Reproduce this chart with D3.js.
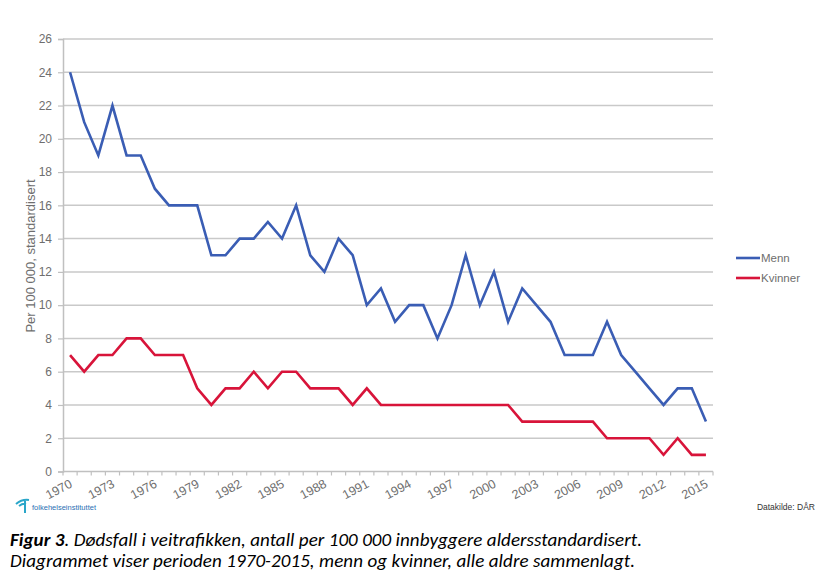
<!DOCTYPE html>
<html><head><meta charset="utf-8">
<script src="https://cdn.jsdelivr.net/npm/d3@7"></script>
<style>
body{margin:0;background:#fff;}
svg{display:block;}
</style></head>
<body>
<svg id="c" width="829" height="586"></svg>
<script>
const years = d3.range(1970, 2016);
const menn = [24,21,19,22,19,19,17,16,16,16,13,13,14,14,15,14,16,13,12,14,13,10,11,9,10,10,8,10,13,10,12,9,11,10,9,7,7,7,9,7,6,5,4,5,5,3];
const kvinner = [7,6,7,7,8,8,7,7,7,5,4,5,5,6,5,6,6,5,5,5,4,5,4,4,4,4,4,4,4,4,4,4,3,3,3,3,3,3,2,2,2,2,1,2,1,1];
const yTicks = [0,2,4,6,8,10,12,14,16,18,20,22,24,26];
const seriesNames = ["Menn","Kvinner"];
const seriesColors = ["#3a5db4","#d8143a"];

(function(){
const svg = d3.select("#c");
const pL = 63, pR = 713, pT = 39, pB = 471.5;
const x = d3.scaleBand().domain(years).range([pL, pR]);
const y = d3.scaleLinear().domain([0, 26]).range([pB, pT]);
const gray = "#6e6e6e";
const sans = "'Liberation Sans', Arial, sans-serif";

svg.append("g").selectAll("line").data(yTicks.filter(d=>d>0)).join("line")
  .attr("x1", pL).attr("x2", pR)
  .attr("y1", d=>y(d)).attr("y2", d=>y(d))
  .attr("stroke", "#c9c9c9").attr("stroke-width", 1.5);

const yAxis = svg.append("g").attr("transform", `translate(${pL},0)`)
  .call(d3.axisLeft(y).tickValues(yTicks).tickSize(5).tickPadding(6));
yAxis.select(".domain").attr("stroke", "#c0c0c0").attr("stroke-width", 1.5);
yAxis.selectAll(".tick line").attr("stroke", "#c0c0c0").attr("stroke-width", 1.2);
yAxis.selectAll("text").attr("fill", gray).style("font-family", sans).style("font-size", "12px");

const xg = svg.append("g");
xg.append("line").attr("x1", pL).attr("x2", pR).attr("y1", pB).attr("y2", pB)
  .attr("stroke", "#c0c0c0").attr("stroke-width", 1.5);
const bounds = years.map(d=>x(d)).concat([pR]);
xg.selectAll("line.t").data(bounds).join("line").attr("class","t")
  .attr("x1", d=>d).attr("x2", d=>d).attr("y1", pB).attr("y2", pB+4)
  .attr("stroke", "#c0c0c0").attr("stroke-width", 1.2);
xg.selectAll("text").data(years.filter((d,i)=>i%3===0)).join("text")
  .attr("transform", d=>`translate(${x(d)+x.bandwidth()/2+3},${pB+15}) rotate(-28)`)
  .attr("text-anchor", "end")
  .attr("fill", gray)
  .style("font-family", sans).style("font-size", "12.5px")
  .text(d=>d);

svg.append("text")
  .attr("transform", `translate(35,256) rotate(-90)`)
  .attr("text-anchor", "middle").attr("fill", gray)
  .style("font-family", sans).style("font-size", "13px")
  .text("Per 100 000, standardisert");

const line = d3.line().x((d,i)=>x(years[i])+x.bandwidth()/2).y(d=>y(d));
[menn, kvinner].forEach((s,k)=>{
  svg.append("path").datum(s).attr("d", line)
    .attr("fill","none").attr("stroke", seriesColors[k]).attr("stroke-width", 2.6)
    .attr("stroke-linejoin","miter");
});

const lg = svg.append("g");
seriesNames.forEach((n,k)=>{
  const ly = 258 + k*20;
  lg.append("line").attr("x1",736).attr("x2",760).attr("y1",ly).attr("y2",ly)
    .attr("stroke", seriesColors[k]).attr("stroke-width", 2.6);
  lg.append("text").attr("x",761).attr("y",ly+4).attr("fill", gray)
    .style("font-family",sans).style("font-size","11.5px").text(n);
});

svg.append("text").attr("x",815).attr("y",510).attr("text-anchor","end").attr("fill","#333")
  .style("font-family",sans).style("font-size","8.5px").text("Datakilde: DÅR");

const logo = svg.append("g");
logo.append("path").attr("d","M16,504 Q22,499 29,500 M25,500 L25,513 M19,506 Q23,503 26,504")
  .attr("fill","none").attr("stroke","#2aa6c9").attr("stroke-width",2);
logo.append("text").attr("x",32).attr("y",510).attr("fill","#2a6fb3")
  .style("font-family",sans).style("font-size","7.5px").attr("textLength",64).text("folkehelseinstituttet");

const cap = svg.append("g").style("font-family","Carlito, Lato, 'Open Sans', sans-serif").style("font-size","19px").attr("fill","#000");
const t1 = cap.append("text").attr("x",10).attr("y",546).attr("textLength",632).attr("lengthAdjust","spacing");
t1.append("tspan").style("font-weight","bold").style("font-style","italic").text("Figur 3");
t1.append("tspan").style("font-style","italic").text(". Dødsfall i veitrafikken, antall per 100 000 innbyggere aldersstandardisert.");
cap.append("text").attr("x",10).attr("y",567).style("font-style","italic").attr("textLength",625).attr("lengthAdjust","spacing")
  .text("Diagrammet viser perioden 1970-2015, menn og kvinner, alle  aldre sammenlagt.");
})();
</script>
</body></html>
